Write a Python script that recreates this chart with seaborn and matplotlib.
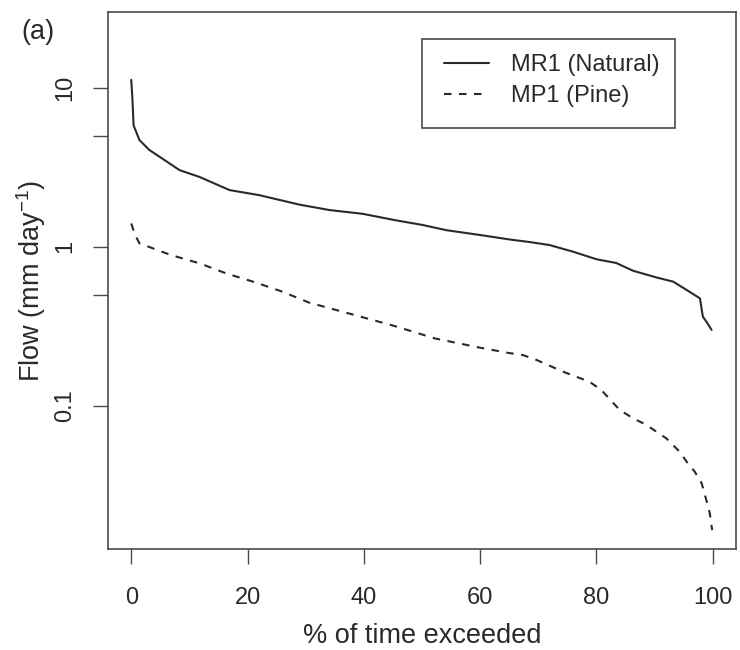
import numpy as np
import pandas as pd
import matplotlib
matplotlib.use("Agg")
import matplotlib.pyplot as plt
from matplotlib.patches import Rectangle
import seaborn as sns

# Flow duration curves for the two catchments
mr1_pct = [0.0, 0.2, 0.4, 1.4, 3.1, 5.7, 8.3, 11.7, 16.9, 22.0, 28.9, 34.1, 39.8,
           45.3, 50.1, 54.2, 59.9, 65.1, 68.5, 71.9, 76.0, 80.0, 83.4, 86.3,
           90.3, 93.2, 95.5, 97.8, 98.3, 98.9, 99.8]
mr1_flow = [11.2, 8.5, 5.8, 4.69, 4.06, 3.51, 3.03, 2.75, 2.27, 2.11, 1.84, 1.70, 1.61,
            1.47, 1.37, 1.27, 1.186, 1.11, 1.07, 1.025, 0.93, 0.834, 0.79, 0.706,
            0.641, 0.603, 0.535, 0.473, 0.363, 0.338, 0.30]

mp1_pct = [0.0, 0.6, 1.4, 6.8, 11.7, 16.3, 21.5, 26.0, 30.6, 37.8, 45.3, 52.2, 59.9,
           64.8, 67.4, 69.7, 74.2, 78.8, 80.8, 84.0, 86.3, 88.6, 92.0, 94.3, 95.5,
           96.9, 98.1, 98.9, 99.5, 99.9]
mp1_flow = [1.40, 1.20, 1.05, 0.887, 0.787, 0.68, 0.594, 0.521, 0.445, 0.377, 0.317,
            0.265, 0.232, 0.215, 0.208, 0.194, 0.164, 0.1415, 0.126, 0.094, 0.0834,
            0.0757, 0.0624, 0.0514, 0.0445, 0.0385, 0.0325, 0.0255, 0.021, 0.0165]

series_names = ["MR1 (Natural)", "MP1 (Pine)"]
y_ticks = [0.1, 0.5, 1, 5, 10]
y_tick_labels = ["0.1", "", "1", "", "10"]
x_ticks = [0, 20, 40, 60, 80, 100]

df = pd.concat([
    pd.DataFrame({"pct": mr1_pct, "flow": mr1_flow, "site": series_names[0]}),
    pd.DataFrame({"pct": mp1_pct, "flow": mp1_flow, "site": series_names[1]}),
], ignore_index=True)

sns.set_theme(style="white")
plt.rcParams["font.family"] = ["Liberation Sans", "DejaVu Sans"]
plt.rcParams["mathtext.default"] = "regular"

ink = "#2a2a2a"
frame = "#4a4a4a"
fs = 17
fs_lab = 19.5

fig = plt.figure(figsize=(7.4, 6.5), dpi=100)
ax = fig.add_axes([108 / 740, 1 - 549 / 650, 628 / 740, 537 / 650])

sns.lineplot(data=df, x="pct", y="flow", hue="site", style="site",
             hue_order=series_names, style_order=series_names,
             palette={series_names[0]: ink, series_names[1]: ink},
             dashes={series_names[0]: "", series_names[1]: (3.6, 3.6)},
             linewidth=1.5, sort=False, estimator=None, ax=ax)

ax.set_yscale("log")
ax.set_xlim(-4, 104)
ax.set_ylim(10 ** -1.901, 10 ** 1.476)
ax.set_xticks(x_ticks)
ax.set_xticklabels([str(t) for t in x_ticks])
ax.set_yticks(y_ticks)
ax.set_yticklabels(y_tick_labels)
ax.yaxis.set_minor_locator(matplotlib.ticker.NullLocator())

for s in ax.spines.values():
    s.set_visible(True)
    s.set_color(frame)
    s.set_linewidth(1.2)

ax.tick_params(axis="both", which="major", direction="out", length=11, width=1.0,
               color=frame, labelcolor=ink, labelsize=fs, bottom=True, left=True,
               top=False, right=False)
ax.tick_params(axis="x", pad=16)
ax.tick_params(axis="y", pad=12, labelrotation=90)
for lab in ax.get_yticklabels():
    lab.set_va("center")

ax.set_xlabel("% of time exceeded", fontsize=fs_lab, color=ink)
ax.set_ylabel("Flow (mm day$^{-1}$)", fontsize=fs_lab, color=ink)
ax.xaxis.set_label_coords(0.5, ((650 - 636) / 650 - (1 - 549 / 650)) / (537 / 650))
ax.xaxis.label.set_va("center")
ax.yaxis.set_label_coords((31 / 740 - 108 / 740) / (628 / 740), 0.5)
ax.yaxis.label.set_va("center")

handles, labels = ax.get_legend_handles_labels()
ax.legend(handles, labels, loc="upper left",
          bbox_to_anchor=(444 / 740, 1 - 54 / 650), bbox_transform=fig.transFigure,
          frameon=False, fontsize=fs, borderpad=0, borderaxespad=0,
          handlelength=1.9, handletextpad=0.95, labelspacing=0.4,
          labelcolor=ink)
fig.patches.append(Rectangle((422 / 740, 1 - 128 / 650), 253 / 740, 89 / 650,
                             transform=fig.transFigure, fill=False,
                             edgecolor=frame, linewidth=1.2, figure=fig))

fig.text(21 / 740, 1 - 32 / 650, "(a)", fontsize=fs_lab, color=ink, va="center", ha="left")

fig.savefig("out.png", dpi=100)
